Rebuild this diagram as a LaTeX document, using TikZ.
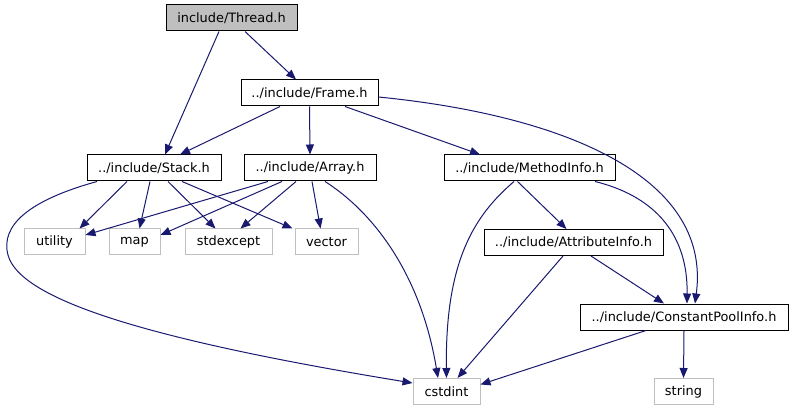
\documentclass[tikz,border=0pt]{standalone}
\usepackage{fontspec}
\setmainfont{DejaVu Sans}
\usetikzlibrary{arrows.meta}
\definecolor{edgeblue}{HTML}{191970}
\definecolor{leafgray}{HTML}{BFBFBF}
\begin{document}
\begin{tikzpicture}[x=1pt, y=-1pt,
  every node/.style={font=\fontsize{12.9}{15}\selectfont, minimum height=26pt, inner xsep=0pt, inner ysep=0pt},
  hdr/.style={draw=black, line width=1pt, fill=white},
  leaf/.style={draw=leafgray, line width=1pt, fill=white},
  dep/.style={draw=edgeblue, line width=1pt, -{Triangle[length=10pt,width=8pt]}}]
  \useasboundingbox (0,0) rectangle (794,411);
  % headers of the project
  \node[hdr, fill=leafgray, minimum width=131pt] (thread) at (231.5,18) {include/Thread.h};
  \node[hdr, minimum width=137pt] (frame) at (309.5,93) {../include/Frame.h};
  \node[hdr, minimum width=134pt] (stack) at (154,168) {../include/Stack.h};
  \node[hdr, minimum width=132pt] (array) at (310,168) {../include/Array.h};
  \node[hdr, minimum width=171pt] (method) at (529.5,168) {../include/MethodInfo.h};
  \node[hdr, minimum width=179pt] (attr) at (573.5,242.5) {../include/AttributeInfo.h};
  \node[hdr, minimum width=208pt] (cpool) at (684,317) {../include/ConstantPoolInfo.h};
  % system headers
  \node[leaf, minimum width=61pt] (utility) at (54.5,242) {utility};
  \node[leaf, minimum width=51pt] (map) at (134.5,242) {map};
  \node[leaf, minimum width=87pt] (stdexcept) at (228.5,242) {stdexcept};
  \node[leaf, minimum width=63pt] (vector) at (326.5,242) {vector};
  \node[leaf, minimum width=67pt] (cstdint) at (446.5,391.5) {cstdint};
  \node[leaf, minimum width=59pt] (string) at (683.5,391.5) {string};
  % Thread.h
  \draw[dep] ([xshift=13.5pt]thread.south) -- ([xshift=-13.5pt]frame.north);
  \draw[dep] ([xshift=-12.5pt]thread.south) -- ([xshift=11pt]stack.north);
  % Frame.h
  \draw[dep] ([xshift=-29.5pt]frame.south) -- ([xshift=26pt]stack.north);
  \draw[dep] (frame.south) -- (array.north);
  \draw[dep] ([xshift=35.5pt]frame.south) -- ([xshift=-49.5pt]method.north);
  \draw[dep] ([yshift=-4pt]frame.east) .. controls (560,115) and (712,175) .. ([xshift=11pt]cpool.north);
  % Stack.h
  \draw[dep] ([xshift=-27pt]stack.south) -- ([xshift=25pt]utility.north);
  \draw[dep] ([xshift=-4pt]stack.south) -- ([xshift=5pt]map.north);
  \draw[dep] ([xshift=14pt]stack.south) -- ([xshift=-13pt]stdexcept.north);
  \draw[dep] ([xshift=28pt]stack.south) -- ([xshift=-34pt]vector.north);
  \draw[dep] ([xshift=-57pt]stack.south) .. controls (30,200) and (0,225) .. (8,255)
    .. controls (20,300) and (150,340) .. ([yshift=8.5pt]cstdint.west);
  % Array.h
  \draw[dep] ([xshift=-42pt]array.south) -- ([yshift=7pt]utility.east);
  \draw[dep] ([xshift=-28pt]array.south) -- ([yshift=7pt]map.east);
  \draw[dep] ([xshift=-14pt]array.south) -- ([xshift=12pt]stdexcept.north);
  \draw[dep] ([xshift=2pt]array.south) -- ([xshift=-6pt]vector.north);
  \draw[dep] ([xshift=15pt]array.south) .. controls (370,210) and (420,270) .. ([xshift=-8.5pt]cstdint.north);
  % MethodInfo.h
  \draw[dep] ([xshift=-12pt]method.south) -- ([xshift=-7pt]attr.north);
  \draw[dep] ([xshift=-15.5pt]method.south) .. controls (475,215) and (445,260) .. (cstdint.north);
  \draw[dep] ([xshift=65.5pt]method.south) .. controls (650,195) and (688,230) .. ([xshift=3pt]cpool.north);
  % AttributeInfo.h
  \draw[dep] ([xshift=-10.5pt]attr.south) -- ([xshift=11pt]cstdint.north);
  \draw[dep] ([xshift=17.5pt]attr.south) -- ([xshift=-20pt]cpool.north);
  % ConstantPoolInfo.h
  \draw[dep] ([xshift=-38pt]cpool.south) -- ([yshift=7pt]cstdint.east);
  \draw[dep] (cpool.south) -- (string.north);
\end{tikzpicture}
\end{document}
